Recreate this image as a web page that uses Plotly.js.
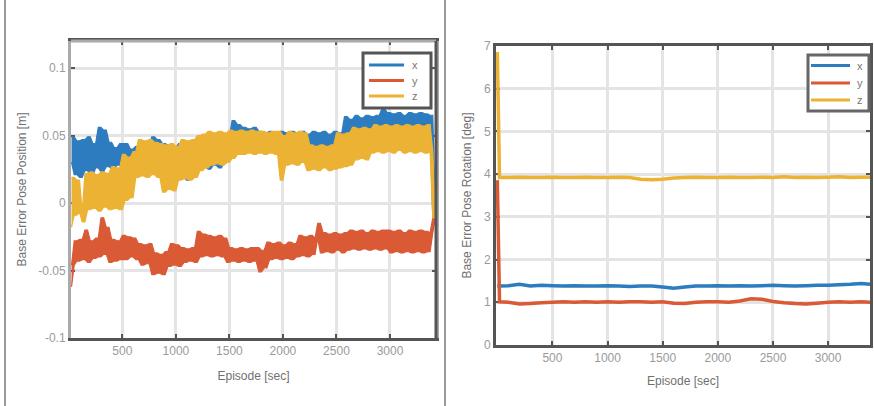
<!DOCTYPE html>
<html>
<head>
<meta charset="utf-8">
<script src="https://cdn.plot.ly/plotly-3.0.1.min.js"></script>
<style>
  html, body { margin: 0; padding: 0; background: #fff; }
  #chart { width: 874px; height: 406px; }
</style>
</head>
<body>
<div id="chart"></div>
<script>
// ---- Position error (left panel), sampled every 25 s starting at t = 25 s ----
const posStart = 25;
const posStep = 25;
const posErrX = [
  0.030, 0.049, 0.021, 0.046, 0.019,
  0.047, 0.024, 0.049, 0.020, 0.044, 0.026,
  0.056, 0.023, 0.054, 0.027,
  0.045, 0.025, 0.041, 0.028, 0.044,
  0.026, 0.044, 0.025, 0.040, 0.027, 0.042, 0.026, 0.041, 0.029, 0.043,
  0.031, 0.049, 0.032, 0.047, 0.030,
  0.044, 0.017, 0.043, 0.020, 0.041, 0.018, 0.044,
  0.019, 0.042, 0.017, 0.045, 0.021, 0.043,
  0.025, 0.045, 0.027, 0.044,
  0.025, 0.047, 0.028, 0.046, 0.026, 0.047, 0.030, 0.049, 0.033,
  0.061, 0.036, 0.058,
  0.038, 0.056, 0.040, 0.055, 0.038, 0.056,
  0.039, 0.053, 0.038, 0.052, 0.040, 0.053, 0.039, 0.051, 0.038, 0.053, 0.040, 0.052, 0.039, 0.053, 0.041,
  0.052, 0.040, 0.053, 0.039, 0.051, 0.041, 0.053, 0.039, 0.052, 0.040, 0.053, 0.042, 0.051, 0.040, 0.053, 0.041, 0.052,
  0.044, 0.064, 0.046, 0.062,
  0.050, 0.065, 0.051, 0.063, 0.050, 0.065, 0.052, 0.064, 0.050, 0.065, 0.051, 0.070, 0.052,
  0.067, 0.050, 0.066, 0.051, 0.067, 0.052, 0.065, 0.050, 0.067, 0.051, 0.066, 0.052, 0.067, 0.050, 0.066, 0.052, 0.065,
  -0.011
];
const posErrY = [
  -0.062, -0.046, -0.028,
  -0.043, -0.027, -0.042, -0.020, -0.044, -0.028, -0.041, -0.026,
  -0.040, -0.011, -0.038, -0.018,
  -0.044, -0.027, -0.043, -0.028, -0.042,
  -0.024, -0.042, -0.025, -0.040, -0.026, -0.042,
  -0.030, -0.046, -0.031, -0.045, -0.030,
  -0.053, -0.037, -0.052, -0.038, -0.053, -0.036,
  -0.047, -0.030, -0.046, -0.031, -0.047,
  -0.033, -0.044, -0.034, -0.043, -0.033, -0.044,
  -0.021, -0.040, -0.023, -0.039,
  -0.024, -0.040, -0.025, -0.039, -0.024, -0.040, -0.026,
  -0.044, -0.033, -0.043, -0.034, -0.044, -0.033, -0.043, -0.034, -0.044, -0.033, -0.043,
  -0.033, -0.051, -0.035, -0.048,
  -0.029, -0.042, -0.030, -0.041, -0.029, -0.042, -0.031, -0.041, -0.029, -0.042, -0.030,
  -0.040, -0.024, -0.039, -0.025, -0.040, -0.024, -0.038, -0.026,
  -0.015,
  -0.037, -0.022, -0.036, -0.023, -0.037, -0.022, -0.035, -0.023, -0.037, -0.022,
  -0.035, -0.020, -0.034, -0.021, -0.035, -0.020, -0.034, -0.022, -0.035, -0.020, -0.034, -0.021, -0.035, -0.020, -0.034,
  -0.020, -0.037, -0.021, -0.036, -0.020, -0.037, -0.022, -0.036, -0.020, -0.037, -0.021, -0.036, -0.020, -0.037, -0.021, -0.036, -0.022,
  -0.011
];
const posErrZ = [
  -0.018, 0.019, -0.009, 0.017, -0.007,
  -0.014, 0.022, -0.005, 0.023, -0.004, 0.021, -0.006, 0.023, -0.003, 0.022,
  -0.005, 0.027, -0.004, 0.026, -0.005,
  0.036, 0.002, 0.034, 0.004, 0.038,
  0.019, 0.047, 0.020, 0.046, 0.019, 0.047, 0.021, 0.045, 0.019,
  0.044, 0.008, 0.043, 0.010, 0.044, 0.009, 0.042,
  0.017, 0.047, 0.018, 0.046, 0.017, 0.047, 0.019,
  0.050, 0.024, 0.051, 0.026,
  0.053, 0.028, 0.052, 0.029, 0.053, 0.028, 0.052, 0.030, 0.054, 0.033, 0.053,
  0.036, 0.054, 0.036, 0.053, 0.037, 0.054, 0.036, 0.053, 0.037, 0.053, 0.036, 0.052, 0.037, 0.053, 0.036, 0.053,
  0.017, 0.050,
  0.028, 0.053, 0.029, 0.052, 0.028, 0.053, 0.030, 0.052,
  0.024, 0.043, 0.025, 0.042, 0.024, 0.043, 0.026, 0.042, 0.024, 0.043, 0.025,
  0.052, 0.026, 0.051, 0.027, 0.052, 0.028,
  0.056, 0.032, 0.055, 0.033, 0.056, 0.032, 0.055,
  0.037, 0.058, 0.038, 0.057, 0.037, 0.058, 0.038, 0.057, 0.037, 0.058, 0.039, 0.057, 0.037, 0.058, 0.038, 0.057, 0.037, 0.058, 0.038, 0.057, 0.037, 0.058, 0.038,
  -0.011
];
const posTime = posErrX.map((_, i) => posStart + i * posStep);

// ---- Rotation error (right panel) ----
const rotTime = [0, 20, 100, 200, 300, 400, 500, 600, 700, 800, 900, 1000, 1100, 1200, 1300, 1400, 1500, 1600,
                 1700, 1800, 1900, 2000, 2100, 2200, 2300, 2400, 2500, 2600, 2700, 2800, 2900, 3000, 3100, 3200, 3300, 3380];
const rotErrX = [1.38, 1.38, 1.39, 1.42, 1.38, 1.40, 1.39, 1.38, 1.39, 1.38, 1.38, 1.39, 1.38, 1.37, 1.38, 1.38, 1.36, 1.33,
                 1.36, 1.38, 1.38, 1.39, 1.38, 1.39, 1.38, 1.39, 1.40, 1.39, 1.38, 1.39, 1.40, 1.40, 1.41, 1.42, 1.44, 1.42];
const rotErrY = [3.86, 1.01, 1.00, 0.96, 0.97, 0.99, 1.00, 1.01, 1.00, 1.01, 1.00, 1.01, 1.00, 1.01, 1.01, 1.00, 1.01, 0.98,
                 0.97, 1.00, 1.01, 1.01, 1.00, 1.03, 1.08, 1.07, 1.02, 0.99, 0.97, 0.96, 0.98, 1.00, 1.01, 1.00, 1.01, 1.00];
const rotErrZ = [6.86, 3.92, 3.92, 3.93, 3.92, 3.92, 3.93, 3.92, 3.92, 3.93, 3.92, 3.92, 3.93, 3.92, 3.88, 3.87, 3.88, 3.91,
                 3.92, 3.93, 3.92, 3.92, 3.93, 3.92, 3.92, 3.93, 3.92, 3.94, 3.92, 3.93, 3.92, 3.93, 3.94, 3.92, 3.93, 3.93];

// ---- Ticks and labels ----
const timeTicks = [500, 1000, 1500, 2000, 2500, 3000];
const posTicks = [-0.1, -0.05, 0, 0.05, 0.1];
const posTickText = ['-0.1', '-0.05', '0', '0.05', '0.1'];
const rotTicks = [0, 1, 2, 3, 4, 5, 6, 7];
const seriesNames = ['x', 'y', 'z'];
const colors = ['#2e7cc0', '#da5a36', '#ecb234'];

const W = 874, H = 406;
const fx = p => p / W;        // page pixel -> paper x
const fy = p => 1 - p / H;    // page pixel -> paper y
const FONT = 'Liberation Sans, Arial, sans-serif';

// The sampled signal is far denser than the pixel grid, so each pair of
// neighbouring samples is drawn as its min/max extent: a filled envelope.
function minMaxEnvelope(ts, ys) {
  const n = ys.length, hi = [], lo = [];
  for (let i = 0; i < n; i++) {
    const a = ys[i], b = ys[Math.min(i + 1, n - 1)];
    hi.push(Math.max(a, b));
    lo.push(Math.min(a, b));
  }
  return {
    x: ts.concat(ts.slice().reverse()),
    y: hi.concat(lo.slice().reverse())
  };
}

const traces = [];
[posErrX, posErrY, posErrZ].forEach((ys, k) => {
  const env = minMaxEnvelope(posTime, ys);
  traces.push({
    type: 'scatter', mode: 'lines', x: env.x, y: env.y, name: seriesNames[k],
    xaxis: 'x', yaxis: 'y', showlegend: false,
    fill: 'toself', fillcolor: colors[k],
    line: { color: colors[k], width: 1.2, simplify: false }, hoverinfo: 'skip'
  });
});
[rotErrX, rotErrY, rotErrZ].forEach((ys, k) => {
  traces.push({
    type: 'scatter', mode: 'lines', x: rotTime, y: ys, name: seriesNames[k],
    xaxis: 'x2', yaxis: 'y2', showlegend: false,
    line: { color: colors[k], width: 3.5, simplify: false }, hoverinfo: 'skip'
  });
});

const tickFont = { family: FONT, size: 12, color: '#9a9a9a' };
const titleFont = { family: FONT, size: 12, color: '#707070' };
const axisBase = {
  showgrid: true, gridcolor: '#e4e4e4', gridwidth: 3, zeroline: false,
  ticks: 'inside', ticklen: 4, tickwidth: 2, tickcolor: '#555',
  showline: true, linewidth: 3, mirror: 'ticks', tickfont: tickFont,
  layer: 'below traces', fixedrange: true
};

// Boxed legend drawn in page pixels: frame, colour swatches and labels
function boxedLegend(box, lineX0, lineX1, rowsY, labelX, frameColor) {
  const shapes = [{
    type: 'rect', xref: 'paper', yref: 'paper',
    x0: fx(box[0]), x1: fx(box[1]), y0: fy(box[3]), y1: fy(box[2]),
    fillcolor: '#fff', line: { color: frameColor, width: 3 }
  }];
  const notes = [];
  rowsY.forEach((yy, k) => {
    shapes.push({
      type: 'line', xref: 'paper', yref: 'paper',
      x0: fx(lineX0), x1: fx(lineX1), y0: fy(yy), y1: fy(yy),
      line: { color: colors[k], width: 3 }
    });
    notes.push({
      xref: 'paper', yref: 'paper', x: fx(labelX), y: fy(yy),
      xanchor: 'left', yanchor: 'middle', showarrow: false,
      text: seriesNames[k], font: { family: FONT, size: 11, color: '#777' }
    });
  });
  return { shapes, notes };
}

const legPos = boxedLegend([363, 431, 53, 108], 369, 404, [65, 80.5, 96], 410, '#555');
const legRot = boxedLegend([808, 869, 55, 111], 811, 850, [65.5, 83, 100], 855, '#666');

const layout = {
  width: W, height: H, autosize: false,
  margin: { l: 0, r: 0, t: 0, b: 0 },
  paper_bgcolor: '#fff', plot_bgcolor: '#fff',
  showlegend: false,
  xaxis: Object.assign({}, axisBase, {
    domain: [fx(71), fx(436)], range: [20, 3430], anchor: 'y',
    tickvals: timeTicks, linecolor: '#555',
    title: { text: 'Episode [sec]', font: titleFont, standoff: 15 }
  }),
  yaxis: Object.assign({}, axisBase, {
    domain: [fy(338), fy(41)], range: [-0.1, 0.12], anchor: 'x',
    tickvals: posTicks, ticktext: posTickText, linecolor: '#aaa',
    title: { text: 'Base Error Pose Position [m]', font: titleFont, standoff: 10 }
  }),
  xaxis2: Object.assign({}, axisBase, {
    domain: [fx(496), fx(870)], range: [-12, 3380], anchor: 'y2',
    tickvals: timeTicks, linecolor: '#555',
    title: { text: 'Episode [sec]', font: titleFont, standoff: 13 }
  }),
  yaxis2: Object.assign({}, axisBase, {
    domain: [fy(345), fy(46)], range: [0, 7], anchor: 'x2',
    tickvals: rotTicks, linecolor: '#555',
    title: { text: 'Base Error Pose Rotation [deg]', font: titleFont, standoff: 10 }
  }),
  shapes: [
    // lighter top edge and darker right edge of the position panel frame
    { type: 'line', xref: 'x domain', yref: 'y domain', x0: 0, x1: 1, y0: 1, y1: 1, line: { color: '#aaa', width: 3 } },
    { type: 'line', xref: 'x domain', yref: 'y domain', x0: 1, x1: 1, y0: 0, y1: 1, line: { color: '#555', width: 3 } },
    // panel separators
    { type: 'line', xref: 'paper', yref: 'paper', x0: fx(5), x1: fx(5), y0: 0, y1: 1, line: { color: '#999', width: 2 } },
    { type: 'line', xref: 'paper', yref: 'paper', x0: fx(445), x1: fx(445), y0: 0, y1: 1, line: { color: '#999', width: 2 } }
  ].concat(legPos.shapes, legRot.shapes),
  annotations: legPos.notes.concat(legRot.notes)
};

Plotly.newPlot('chart', traces, layout, { staticPlot: true, displayModeBar: false });
</script>
</body>
</html>
